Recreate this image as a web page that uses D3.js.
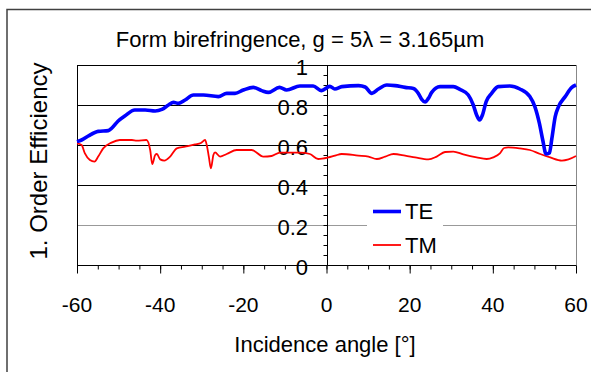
<!DOCTYPE html>
<html>
<head>
<meta charset="utf-8">
<script src="https://cdn.jsdelivr.net/npm/d3@7"></script>
<style>
html,body{margin:0;padding:0;background:#fff;}
svg{display:block;font-family:"Liberation Sans",Arial,sans-serif;}
</style>
</head>
<body>
<svg id="chart" width="591" height="372"></svg>
<script>
// ---- data ----
const teAngle = [-60,-58.9,-57.3,-54.9,-52.5,-51.7,-50.1,-48.5,-46.1,-43.6,-41.2,-39.6,-38,-36.8,-35.6,-34,-32,-29.6,-26,-24,-22,-20,-17.6,-15.6,-14,-11.3,-9.6,-6.4,-3.2,-1.2,0.8,2,3.7,7.7,9.3,10.9,12.5,14.5,16.5,18.9,20.9,22.1,22.9,23.7,24.5,25.3,27.3,30.5,32.1,34.1,35.3,36.1,36.8,37.5,38.4,39.7,41.3,44.1,46.5,48.9,50.1,51.2,52.0,52.8,53.6,54.2,55.0,55.8,57.4,59,60];
const teValue = [0.617,0.625,0.645,0.668,0.672,0.683,0.72,0.745,0.775,0.775,0.77,0.778,0.8,0.813,0.808,0.825,0.85,0.85,0.842,0.858,0.858,0.875,0.888,0.872,0.863,0.888,0.875,0.895,0.895,0.872,0.893,0.88,0.892,0.897,0.89,0.858,0.88,0.9,0.897,0.888,0.883,0.858,0.828,0.815,0.833,0.863,0.892,0.892,0.878,0.85,0.8,0.75,0.725,0.75,0.817,0.858,0.892,0.895,0.88,0.842,0.792,0.708,0.625,0.555,0.56,0.633,0.742,0.792,0.842,0.888,0.9];
const tmAngle = [-60,-58.9,-58.1,-56.9,-55.8,-54.9,-53.7,-51.7,-49.7,-46.8,-45.6,-43.3,-42.4,-41.9,-41.2,-40.8,-40.0,-39.0,-37.6,-36.0,-34.0,-31.6,-30.2,-29.2,-28.8,-28.3,-27.8,-27.2,-26.8,-25.6,-24,-21.6,-18,-15.2,-13.2,-11.2,-6.4,-4,-2,0.45,2.05,3.66,7.66,10.1,12.1,14.1,16.1,18.9,21.3,24.5,26.5,28.5,30.5,32.9,36.1,38.5,40.1,41.7,42.7,43.7,46.5,48.9,51.4,53.8,56.6,58.2,60];
const tmValue = [0.608,0.6,0.558,0.525,0.517,0.542,0.583,0.612,0.625,0.625,0.622,0.625,0.575,0.505,0.55,0.555,0.528,0.522,0.542,0.583,0.592,0.603,0.61,0.625,0.6,0.542,0.483,0.55,0.563,0.542,0.555,0.575,0.575,0.542,0.545,0.562,0.562,0.555,0.53,0.538,0.547,0.555,0.547,0.542,0.53,0.542,0.555,0.547,0.538,0.528,0.542,0.565,0.567,0.553,0.538,0.53,0.538,0.558,0.585,0.588,0.583,0.575,0.555,0.538,0.522,0.528,0.545];
const xTicks = [-60,-40,-20,0,20,40,60];
const yTicks = [0,0.2,0.4,0.6,0.8,1];
const seriesNames = ["TE","TM"];
const titleText = "Form birefringence, g = 5\u03BB = 3.165\u00B5m";
const xTitle = "Incidence angle [\u00B0]";
const yTitle = "1. Order Efficiency";

// ---- layout ----
const svg = d3.select("#chart");
const L = 77, R = 576, T = 65, B = 265;
const x = d3.scaleLinear().domain([-60,60]).range([L,R]);
const y = d3.scaleLinear().domain([0,1]).range([B,T]);

// outer frame
svg.append("rect").attr("x",7).attr("y",9.5).attr("width",600).attr("height",400)
  .attr("fill","none").attr("stroke","#404040").attr("stroke-width",1.5);

// gridlines
const g = svg.append("g");
[0.2,0.4,0.6,0.8].forEach(v=>{
  g.append("line").attr("x1",L).attr("x2",R).attr("y1",Math.round(y(v))+0.5).attr("y2",Math.round(y(v))+0.5)
   .attr("stroke", v===0.2 ? "#999" : "#000").attr("stroke-width",1);
});
// plot frame
svg.append("line").attr("x1",L).attr("x2",R).attr("y1",T+0.5).attr("y2",T+0.5).attr("stroke","#000");
svg.append("line").attr("x1",L+0.5).attr("x2",L+0.5).attr("y1",T).attr("y2",B).attr("stroke","#000");
svg.append("line").attr("x1",R+0.5).attr("x2",R+0.5).attr("y1",T).attr("y2",B).attr("stroke","#888");

// legend background (hides gridline)
svg.append("rect").attr("x",367).attr("y",199).attr("width",76).attr("height",58).attr("fill","#fff");

// x axis at y=0
const xAxisMinor = d3.axisBottom(x).tickValues(d3.range(-60,61,5)).tickSize(4).tickFormat("");
const xg1 = svg.append("g").attr("transform",`translate(0,${B+0.5})`).call(xAxisMinor);
const xAxisMajor = d3.axisBottom(x).tickValues(xTicks).tickSize(8).tickFormat("");
const xg2 = svg.append("g").attr("transform",`translate(0,${B+0.5})`).call(xAxisMajor);
[xg1,xg2].forEach(a=>{a.select(".domain").attr("stroke","#000"); a.selectAll(".tick line").attr("stroke","#000");});
xg1.select(".domain").attr("d",`M${L},0H${R}`);
xg2.select(".domain").remove();

// y axis at x=0
const yx = Math.round(x(0))+0.5;
const yAxisMinor = d3.axisLeft(y).tickValues(d3.range(0,1.001,0.05)).tickSize(4).tickFormat("");
const yg1 = svg.append("g").attr("transform",`translate(${yx},0)`).call(yAxisMinor);
yg1.select(".domain").attr("d",`M0,${T}V${B}`).attr("stroke","#000");
yg1.selectAll(".tick line").attr("stroke","#000");

// y tick labels
svg.append("g").selectAll("text").data(yTicks).join("text")
  .attr("x",308).attr("y",d=>y(d)+10).attr("text-anchor","end")
  .attr("font-size",22).attr("fill","#000").text(d=>d3.format("")(d));

// x tick labels
svg.append("g").selectAll("text").data(xTicks).join("text")
  .attr("x",d=>x(d)).attr("y",311.5).attr("text-anchor","middle")
  .attr("font-size",21).attr("fill","#000").text(d=>d);

// lines
const lineGen = d3.line().x(d=>x(d[0])).y(d=>y(d[1])).curve(d3.curveMonotoneX);
const teData = teAngle.map((a,i)=>[a,teValue[i]]);
const tmData = tmAngle.map((a,i)=>[a,tmValue[i]]);
svg.append("path").datum(tmData).attr("d",lineGen).attr("fill","none").attr("stroke","#ff0000").attr("stroke-width",1.8).attr("stroke-linejoin","round");
svg.append("path").datum(teData).attr("d",lineGen).attr("fill","none").attr("stroke","#0000ff").attr("stroke-width",3.6).attr("stroke-linejoin","round");

// legend
const colors = ["#0000ff","#ff0000"], widths=[3.6,1.8], ly=[211.5,245], ty=[218.5,253];
seriesNames.forEach((n,i)=>{
  svg.append("line").attr("x1",373).attr("x2",401).attr("y1",ly[i]).attr("y2",ly[i]).attr("stroke",colors[i]).attr("stroke-width",widths[i]);
  svg.append("text").attr("x",405).attr("y",ty[i]).attr("font-size",22).attr("fill","#000").text(n);
});

// titles
svg.append("text").attr("x",300).attr("y",47).attr("text-anchor","middle").attr("font-size",22).attr("fill","#000").text(titleText);
svg.append("text").attr("x",325).attr("y",352).attr("text-anchor","middle").attr("font-size",22).attr("fill","#000").text(xTitle);
svg.append("text").attr("transform","translate(47,161) rotate(-90)").attr("text-anchor","middle").attr("font-size",24).attr("fill","#000").text(yTitle);
</script>
</body>
</html>
